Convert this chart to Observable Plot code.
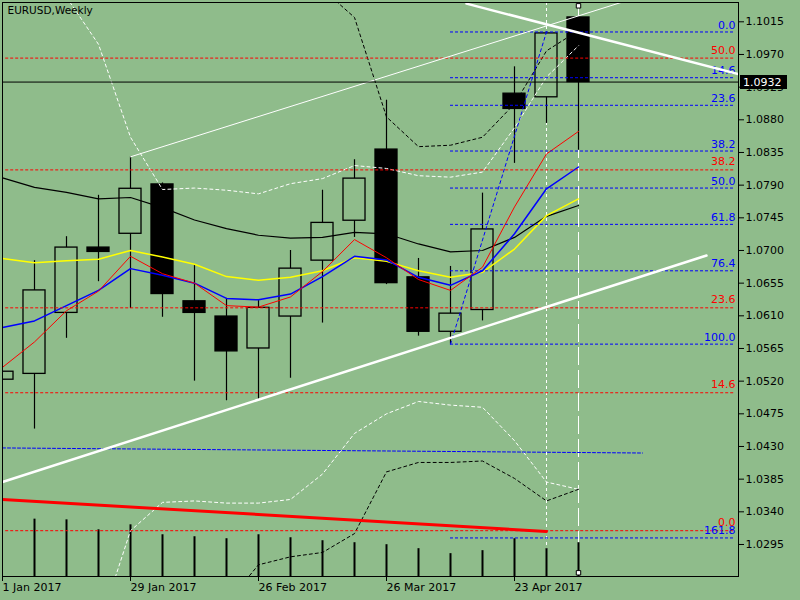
<!DOCTYPE html>
<html>
<head>
<meta charset="utf-8">
<script src="https://cdn.jsdelivr.net/npm/d3@7"></script>
<script src="https://cdn.jsdelivr.net/npm/@observablehq/plot@0.6"></script>
<style>
html, body { margin: 0; padding: 0; background: #8FBC8B; }
#chart { width: 800px; height: 600px; overflow: hidden; }
</style>
</head>
<body>
<div id="chart"></div>
<script>
// ---- data (weekly EURUSD) ----
const weekIndex = [0,1,2,3,4,5,6,7,8,9,10,11,12,13,14,15,16,17,18];
const open  = [1.0522,1.0530,1.0614,1.0704,1.0723,1.0791,1.0630,1.0609,1.0565,1.0609,1.0686,1.0741,1.0839,1.0663,1.0588,1.0618,1.0916,1.0911,1.1021];
const high  = [1.0533,1.0686,1.0719,1.0776,1.0829,1.0793,1.0680,1.0634,1.0631,1.0700,1.0783,1.0825,1.0907,1.0689,1.0678,1.0779,1.0953,1.1001,1.1022];
const low   = [1.0522,1.0454,1.0579,1.0657,1.0620,1.0608,1.0520,1.0493,1.0494,1.0524,1.0600,1.0718,1.0653,1.0582,1.0571,1.0603,1.0820,1.0875,1.0838];
const close = [1.0533,1.0645,1.0704,1.0698,1.0785,1.0640,1.0614,1.0561,1.0621,1.0675,1.0738,1.0799,1.0655,1.0588,1.0613,1.0729,1.0895,1.0999,1.0932];
const volume = [null,57.7,57,47,52,42,40,38,42,39,36,34,32,28,23,26,38,28,34];

const maRed    = [1.0539,1.0574,1.0617,1.0644,1.0692,1.0668,1.0655,1.0624,1.0622,1.0636,1.0671,1.0715,1.0690,1.0660,1.0645,1.0677,1.0760,1.0833,1.0864];
const maBlue   = [1.0594,1.0603,1.0624,1.0645,1.0675,1.0666,1.0655,1.0634,1.0632,1.0640,1.0664,1.0692,1.0687,1.0663,1.0652,1.0672,1.0723,1.0785,1.0815];
const maYellow = [1.0689,1.0683,1.0686,1.0688,1.0700,1.0691,1.0681,1.0664,1.0659,1.0663,1.0672,1.0690,1.0685,1.0672,1.0663,1.0670,1.0702,1.0748,1.0771];
const maBlack  = [1.0800,1.0787,1.0780,1.0771,1.0773,1.0759,1.0742,1.0730,1.0721,1.0717,1.0718,1.0725,1.0723,1.0709,1.0698,1.0700,1.0718,1.0747,1.0762];

const bandWhiteUpper = [null,null,1.1049,1.0984,1.0856,1.0784,1.0786,1.0783,1.0778,1.0792,1.0799,1.0817,1.0813,1.0803,1.0801,1.0808,1.0869,1.0939,1.0982];
const bandWhiteLower = [null,null,null,1.0179,1.0314,1.0353,1.0355,1.0352,1.0352,1.0357,1.0392,1.0448,1.0475,1.0492,1.0487,1.0484,1.0438,1.0381,1.0371];
const bandBlackUpper = [null,null,null,null,null,null,null,null,null,null,1.1060,1.1021,1.0884,1.0843,1.0845,1.0856,1.0902,1.0975,1.1003];
const bandBlackLower = [null,null,null,null,null,null,null,1.0214,1.0267,1.0278,1.0284,1.0310,1.0395,1.0408,1.0408,1.0410,1.0386,1.0355,1.0371];

const blueFibLabels = ["0.0","14.6","23.6","38.2","50.0","61.8","76.4","100.0","161.8"];
const blueFibPrices = [1.1001,1.0938,1.0900,1.0837,1.0786,1.0736,1.0672,1.0571,1.0304];
const redFibLabels  = ["50.0","38.2","23.6","14.6","0.0"];
const redFibPrices  = [1.0965,1.0811,1.0621,1.0504,1.0314];

const blueFibAnchor   = [{w:14, p:1.0571}, {w:17, p:1.1001}];
const trendWhiteLower = [{w:0, p:1.0381}, {w:22, p:1.0693}];
const trendWhiteUpper = [{w:14.5, p:1.1040}, {w:23, p:1.0943}];
const trendWhiteThin  = [{w:4, p:1.0829}, {w:19.5, p:1.1044}];
const trendRed        = [{w:0, p:1.0357}, {w:17, p:1.0313}];
const trendBlue       = [{w:0, p:1.0428}, {w:20, p:1.0421}];
const vlineShort = [17];
const vlineLong  = [18];
const vlineAnchors = [{w:18, p:1.1037}, {w:18, p:1.0256}];
const lastPrice = 1.0932;

const yTickValues = [1.0295,1.0340,1.0385,1.0430,1.0475,1.0520,1.0565,1.0610,1.0655,1.0700,1.0745,1.0790,1.0835,1.0880,1.0925,1.0970,1.1015];
const xTickWeeks  = [0,4,8,12,16];
const xTickLabels = ["1 Jan 2017","29 Jan 2017","26 Feb 2017","26 Mar 2017","23 Apr 2017"];

// ---- build tables ----
const BG = "#8FBC8B";
const yDomain = [1.02509, 1.10416];
const candles = weekIndex.map((i) => ({i, o: open[i], h: high[i], l: low[i], c: close[i], v: volume[i]}));
const series = (arr) => weekIndex.map((i) => ({i, p: arr[i]}));
const blueFib = blueFibLabels.map((label, k) => ({label, p: blueFibPrices[k]}));
const redFib = redFibLabels.map((label, k) => ({label, p: redFibPrices[k]}));
const volMax = d3.max(volume);
const volSpan = 0.0079;
const halfBody = 0.344;

const priceBox = (index, scales, values, dimensions) => {
  const y = scales.y(lastPrice);
  const x0 = dimensions.width - dimensions.marginRight + 2;
  const g = d3.create("svg:g");
  g.append("rect").attr("x", x0).attr("y", Math.round(y) - 7).attr("width", 47).attr("height", 14).attr("fill", "black");
  g.append("text").attr("x", x0 + 3).attr("y", y).attr("dy", "0.36em")
    .attr("text-anchor", "start")
    .attr("fill", "white").attr("font-size", 11).attr("font-family", "DejaVu Sans")
    .text(lastPrice.toFixed(4));
  return g.node();
};

const chart = Plot.plot({
  width: 800,
  height: 600,
  marginTop: 2,
  marginRight: 62,
  marginBottom: 24,
  marginLeft: 2,
  x: {type: "linear", domain: [0, 23]},
  y: {type: "linear", domain: yDomain},
  style: {background: BG, fontFamily: "DejaVu Sans", fontSize: "11px", color: "black"},
  marks: [
    // vertical lines (behind candles)
    Plot.ruleX(vlineShort, {x: d => d, stroke: "white", strokeDasharray: "3,3", strokeWidth: 1}),
    Plot.ruleX(vlineLong, {x: d => d, stroke: "white", strokeDasharray: "18,5", strokeWidth: 1}),
    // candles
    Plot.ruleX(candles, {x: "i", y1: "l", y2: "h", stroke: "black", strokeWidth: 1.2, clip: true}),
    Plot.rect(candles, {x1: d => d.i - halfBody, x2: d => d.i + halfBody, y1: "o", y2: "c",
      fill: d => d.c < d.o ? "black" : BG, stroke: "black", strokeWidth: 1.3, clip: true}),
    // volumes
    Plot.ruleX(candles.filter(d => d.v != null), {x: "i", y1: yDomain[0], y2: d => yDomain[0] + d.v / volMax * volSpan, stroke: "black", strokeWidth: 2}),
    // moving averages
    Plot.line(series(maBlack), {x: "i", y: "p", stroke: "black", strokeWidth: 1.2, clip: true}),
    Plot.line(series(maYellow), {x: "i", y: "p", stroke: "#FFFF00", strokeWidth: 1.5, clip: true}),
    Plot.line(series(maBlue), {x: "i", y: "p", stroke: "#0000FF", strokeWidth: 1.5, clip: true}),
    Plot.line(series(maRed), {x: "i", y: "p", stroke: "#FF0000", strokeWidth: 1, clip: true}),
    // bands
    Plot.line(series(bandWhiteUpper), {x: "i", y: "p", stroke: "white", strokeDasharray: "3,3", strokeWidth: 1, clip: true}),
    Plot.line(series(bandWhiteLower), {x: "i", y: "p", stroke: "white", strokeDasharray: "3,3", strokeWidth: 1, clip: true}),
    Plot.line(series(bandBlackUpper), {x: "i", y: "p", stroke: "black", strokeDasharray: "3,3", strokeWidth: 1, clip: true}),
    Plot.line(series(bandBlackLower), {x: "i", y: "p", stroke: "black", strokeDasharray: "3,3", strokeWidth: 1, clip: true}),
    // fibonacci levels
    Plot.ruleY(redFib, {y: "p", x1: 0.1, x2: 22.9, stroke: "#FF0000", strokeDasharray: "3,2", strokeWidth: 1}),
    Plot.ruleY(blueFib, {y: "p", x1: 14, x2: 22.9, stroke: "#0000FF", strokeDasharray: "3,2", strokeWidth: 1}),
    Plot.line(blueFibAnchor, {x: "w", y: "p", stroke: "#0000FF", strokeDasharray: "3,3", strokeWidth: 1}),
    Plot.text(redFib, {y: "p", text: "label", frameAnchor: "right", textAnchor: "end", dx: -3, dy: -8, fill: "#FF0000", fontSize: 11}),
    Plot.text(blueFib, {y: "p", text: "label", frameAnchor: "right", textAnchor: "end", dx: -3, dy: -7, fill: "#0000FF", fontSize: 11}),
    // trendlines
    Plot.line(trendBlue, {x: "w", y: "p", stroke: "#0000FF", strokeDasharray: "3,2", strokeWidth: 1, clip: true}),
    Plot.line(trendRed, {x: "w", y: "p", stroke: "#FF0000", strokeWidth: 3, clip: true}),
    Plot.line(trendWhiteThin, {x: "w", y: "p", stroke: "white", strokeWidth: 1, clip: true}),
    Plot.line(trendWhiteLower, {x: "w", y: "p", stroke: "white", strokeWidth: 2.5, clip: true}),
    Plot.line(trendWhiteUpper, {x: "w", y: "p", stroke: "white", strokeWidth: 2.5, clip: true}),
    Plot.dot(vlineAnchors, {x: "w", y: "p", symbol: "square", r: 2.5, fill: "white", stroke: "black", strokeWidth: 1}),
    // current price line
    Plot.ruleY([lastPrice], {stroke: "black", strokeWidth: 1}),
    // axes & frame
    Plot.axisY({anchor: "right", ticks: yTickValues, tickFormat: d => d.toFixed(4), tickSize: 5, tickPadding: 2, fontSize: 11, label: null}),
    Plot.axisX({anchor: "bottom", ticks: xTickWeeks, tickFormat: d => xTickLabels[xTickWeeks.indexOf(d)], tickSize: 5, tickPadding: 2, textAnchor: "start", fontSize: 11, label: null}),
    Plot.frame({stroke: "black"}),
    priceBox,
    Plot.text(["EURUSD,Weekly"], {frameAnchor: "top-left", text: d => d, dx: 5, dy: 4, lineAnchor: "top", textAnchor: "start", fontSize: 10.5, fill: "black"})
  ]
});
document.getElementById("chart").appendChild(chart);
</script>
</body>
</html>
